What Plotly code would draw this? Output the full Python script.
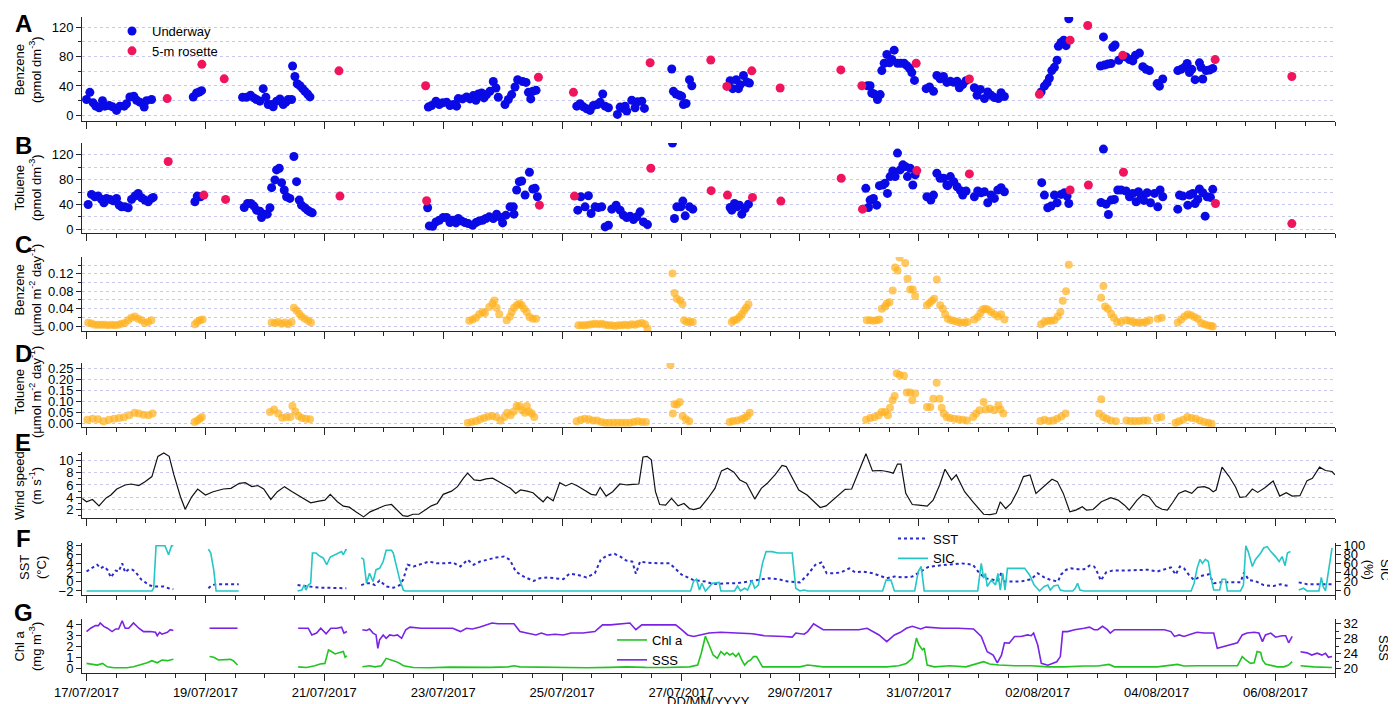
import pandas as pd
import plotly.graph_objects as go

# ---------------- DATA (time = decimal days after 17/07/2017 00:00) ----------------
BASE = pd.Timestamp("2017-07-17 00:00")

ben_underway = [
    (0.000,21.5),(0.056,31.3),(0.112,17.0),(0.157,12.5),(0.213,10.3),(0.269,20.0),(0.308,12.5),(0.381,13.4),
    (0.437,11.6),(0.505,6.7),(0.561,12.5),(0.634,12.5),(0.673,15.7),(0.729,25.0),(0.796,26.0),(0.841,20.6),
    (0.897,17.9),(0.970,11.2),(1.010,20.0),(1.094,21.5),
    (1.795,25.0),(1.851,30.4),(1.896,31.8),(1.935,33.6),
    (2.625,24.6),(2.692,24.6),(2.759,27.3),(2.815,23.7),(2.860,21.5),(2.916,19.3),(2.972,36.3),(3.017,24.6),
    (3.056,14.8),(3.113,14.8),(3.140,11.6),(3.197,19.3),(3.253,22.4),(3.309,14.8),(3.354,17.9),(3.393,21.5),
    (3.449,21.5),(3.466,67.2),(3.505,52.8),(3.545,43.0),(3.590,40.3),(3.634,36.3),(3.673,32.7),(3.718,29.1),(3.758,25.1),
    (5.749,11.2),(5.805,13.4),(5.878,19.3),(5.934,14.8),(5.990,17.0),(6.057,17.9),(6.113,13.4),(6.169,14.8),
    (6.225,12.5),(6.253,22.8),(6.326,22.4),(6.393,25.0),(6.449,22.4),(6.505,26.9),(6.550,20.6),(6.590,29.1),
    (6.646,30.4),(6.685,23.7),(6.730,28.2),(6.786,32.7),(6.842,46.1),(6.887,37.2),(6.926,24.6),(7.039,14.8),
    (7.095,21.5),(7.151,28.2),(7.207,38.5),(7.252,48.4),(7.337,46.1),(7.393,44.8),(7.433,31.3),(7.472,22.4),
    (7.506,32.7),(7.562,34.0),
    (8.246,12.5),(8.302,15.7),(8.358,11.6),(8.414,9.0),(8.470,6.7),(8.526,13.4),(8.594,14.8),(8.639,17.9),
    (8.683,29.1),(8.723,12.5),(8.779,10.3),(8.930,1.3),(8.975,11.2),(9.031,9.4),(9.059,12.5),(9.087,5.8),
    (9.171,20.6),(9.227,10.3),(9.267,18.4),(9.340,19.3),(9.384,9.4),
    (9.844,63.1),(9.872,32.7),(9.917,29.1),(9.973,27.3),(10.010,26.0),(10.040,14.8),(10.085,16.1),(10.142,48.4),(10.181,40.3),
    (10.826,47.0),(10.870,36.3),(10.927,48.4),(10.966,36.3),(10.994,41.6),(11.050,54.2),(11.106,45.2),(11.151,43.9),
    (13.136,40.3),(13.180,40.3),(13.208,30.4),(13.248,29.1),(13.304,21.5),(13.350,28.2),(13.377,60.9),(13.417,70.8),
    (13.462,82.8),(13.506,71.6),(13.546,76.1),(13.585,88.7),(13.641,70.8),(13.697,70.8),(13.753,70.8),(13.798,67.6),
    (13.843,64.0),(13.882,58.2),(13.927,47.5),
    (14.123,36.3),(14.180,38.5),(14.247,32.7),(14.303,54.2),(14.359,49.7),(14.415,52.8),(14.471,44.8),(14.530,46.3),
    (14.587,45.0),(14.643,46.3),(14.682,37.5),(14.738,41.9),(14.794,47.2),(14.934,37.5),(14.979,27.3),(15.035,35.3),
    (15.103,22.9),(15.159,31.8),(15.215,27.3),(15.271,24.3),(15.338,22.9),(15.383,30.9),(15.439,25.6),
    (16.056,31.8),(16.112,39.7),(16.157,44.1),(16.196,50.7),(16.236,60.9),(16.280,65.3),(16.325,75.0),(16.347,93.9),
    (16.393,99.2),(16.437,102.3),(16.476,94.8),(16.522,131.4),
    (17.054,67.0),(17.105,106.7),(17.122,68.4),(17.178,69.7),(17.234,70.6),(17.262,92.6),(17.301,95.7),(17.363,75.0),
    (17.486,79.4),(17.543,75.9),(17.599,74.1),(17.643,81.6),(17.711,84.7),(17.767,66.2),(17.823,62.6),(17.879,60.9),
    (18.008,43.2),(18.047,39.7),(18.103,49.4),
    (18.356,60.9),(18.412,62.6),(18.468,65.3),(18.513,70.6),(18.552,58.2),(18.591,62.6),(18.647,48.5),(18.720,71.4),
    (18.748,65.3),(18.776,49.4),(18.832,60.9),(18.888,61.7),(18.944,63.9),
]
ben_rosette = [
    (1.357,22.8),(1.940,69.4),(2.316,49.7),(4.246,60.5),(5.704,40.3),(7.601,51.9),(8.190,31.3),(9.480,71.6),
    (10.500,75.2),(10.770,39.4),(11.190,60.5),(11.667,37.2),(12.688,61.8),(13.041,40.3),(13.955,70.8),(14.850,49.4),
    (16.028,28.7),(16.544,102.3),(16.841,122.2),(17.430,81.6),(18.984,75.9),(20.274,52.9),
]
tol_underway = [
    (0.028,40.0),(0.084,56.2),(0.140,52.4),(0.196,53.5),(0.252,48.1),(0.292,42.7),(0.337,49.7),(0.393,48.1),
    (0.449,45.9),(0.505,49.7),(0.550,38.9),(0.589,36.2),(0.645,36.2),(0.701,34.6),(0.757,48.1),(0.813,53.5),
    (0.869,57.8),(0.925,50.8),(0.982,47.0),(1.038,44.3),(1.094,49.7),(1.122,51.3),
    (1.823,44.3),(1.862,53.5),(1.918,52.4),
    (2.653,35.1),(2.709,41.6),(2.765,41.6),(2.815,37.3),(2.860,30.8),(2.916,29.2),(2.944,18.9),(3.000,24.3),
    (3.040,24.3),(3.085,34.6),(3.113,67.0),(3.169,79.5),(3.197,95.7),(3.242,98.4),(3.281,75.1),(3.326,63.2),
    (3.365,52.4),(3.421,49.7),(3.488,117.3),(3.533,76.7),(3.578,47.0),(3.617,38.9),(3.673,34.6),(3.718,30.8),
    (3.758,28.1),(3.797,26.5),
    (5.738,34.6),(5.766,5.4),(5.822,4.9),(5.878,11.9),(5.934,14.6),(6.000,18.9),(6.057,18.9),(6.113,10.8),
    (6.158,14.6),(6.214,10.3),(6.253,17.3),(6.309,13.5),(6.365,10.8),(6.421,9.2),(6.494,6.5),(6.550,10.8),
    (6.606,13.5),(6.662,14.6),(6.718,17.3),(6.774,20.0),(6.842,17.3),(6.898,24.3),(6.965,18.9),(6.999,10.3),
    (7.055,22.7),(7.123,36.2),(7.179,36.2),(7.190,24.3),(7.235,63.2),(7.280,76.7),(7.320,77.8),(7.377,55.1),
    (7.450,91.9),(7.506,64.9),(7.545,65.9),(7.584,52.4),
    (8.263,30.8),(8.314,52.4),(8.386,36.2),(8.442,54.0),(8.487,25.4),(8.554,36.2),(8.610,35.1),(8.666,36.2),
    (8.723,3.8),(8.779,6.5),(8.835,32.4),(8.908,38.9),(8.975,30.8),(9.031,22.7),(9.087,18.9),(9.143,21.1),
    (9.200,15.7),(9.256,20.0),(9.312,28.1),(9.368,11.9),(9.436,7.6),
    (9.856,138.9),(9.890,17.3),(9.929,36.2),(9.996,36.2),(10.030,45.4),(10.070,21.6),(10.142,36.2),(10.198,32.4),
    (10.826,35.1),(10.854,30.8),(10.899,41.6),(10.938,36.2),(10.983,38.9),(11.022,24.3),(11.078,33.5),(11.134,40.5),
    (13.108,65.9),(13.153,35.1),(13.180,47.0),(13.236,49.7),(13.292,38.9),(13.337,70.3),(13.393,71.3),(13.432,74.0),
    (13.472,57.8),(13.517,84.9),(13.562,94.0),(13.601,84.9),(13.641,122.7),(13.686,95.7),(13.731,103.8),(13.770,101.1),
    (13.809,84.9),(13.854,98.4),(13.899,71.3),(13.938,87.6),
    (14.135,52.4),(14.202,47.0),(14.247,55.1),(14.303,90.3),(14.359,82.2),(14.415,82.2),(14.471,71.3),(14.486,70.3),
    (14.530,84.9),(14.587,76.7),(14.643,68.6),(14.700,62.2),(14.738,55.1),(14.794,61.6),(14.934,52.4),(14.990,61.6),
    (15.047,58.9),(15.103,60.5),(15.159,42.7),(15.215,55.1),(15.271,49.7),(15.327,63.2),(15.383,67.0),(15.439,60.5),
    (16.067,75.1),(16.112,55.1),(16.168,34.6),(16.224,37.3),(16.280,55.1),(16.325,42.7),(16.393,56.2),(16.449,58.9),
    (16.494,53.5),(16.522,41.6),
    (17.065,43.2),(17.105,129.2),(17.150,40.5),(17.189,23.8),(17.234,47.0),(17.290,48.1),(17.346,63.2),(17.402,63.2),
    (17.486,61.6),(17.543,52.4),(17.599,57.8),(17.655,44.3),(17.694,60.5),(17.739,53.5),(17.784,46.5),(17.840,58.9),
    (17.896,42.7),(17.963,57.8),(18.019,36.2),(18.058,63.2),(18.103,52.4),
    (18.356,32.4),(18.384,55.1),(18.440,53.5),(18.524,38.9),(18.552,55.1),(18.608,57.8),(18.647,41.6),(18.692,48.1),
    (18.720,64.9),(18.776,58.9),(18.816,21.1),(18.849,52.4),(18.905,51.3),(18.944,64.3),
]
tol_rosette = [
    (1.374,109.2),(1.974,55.1),(2.339,48.1),(4.263,53.5),(5.721,45.9),(7.618,38.9),(8.207,53.5),(9.492,98.4),
    (10.506,62.2),(10.781,55.1),(11.202,51.3),(11.679,45.4),(12.694,82.2),(13.052,32.4),(13.966,94.6),(14.850,89.2),
    (16.544,63.2),(16.852,71.3),(17.442,91.9),(18.990,41.6),(20.274,9.2),
]
ben_flux = [
    (0.028,0.0077),(0.084,0.006),(0.140,0.003),(0.196,0.003),(0.252,0.003),(0.308,0.003),(0.364,0.0015),(0.420,0.003),
    (0.476,0.0015),(0.532,0.003),(0.588,0.005),(0.644,0.007),(0.700,0.013),(0.756,0.019),(0.812,0.022),(0.868,0.017),
    (0.924,0.013),(0.980,0.007),(1.036,0.009),(1.092,0.013),
    (1.823,0.004),(1.862,0.009),(1.907,0.013),(1.952,0.015),
    (3.113,0.008),(3.169,0.007),(3.225,0.009),(3.281,0.005),(3.337,0.008),(3.393,0.004),(3.449,0.009),(3.488,0.042),
    (3.533,0.036),(3.578,0.028),(3.617,0.022),(3.673,0.017),(3.730,0.012),(3.775,0.008),
    (6.438,0.012),(6.494,0.015),(6.550,0.019),(6.606,0.027),(6.662,0.032),(6.702,0.030),(6.775,0.044),(6.830,0.052),
    (6.860,0.059),(6.898,0.042),(6.943,0.027),(7.067,0.013),(7.123,0.022),(7.152,0.032),(7.191,0.042),(7.236,0.048),
    (7.281,0.052),(7.320,0.048),(7.360,0.040),(7.405,0.032),(7.450,0.021),(7.506,0.017),(7.562,0.017),
    (8.274,0.0015),(8.330,0.0015),(8.386,0.0015),(8.442,0.003),(8.498,0.004),(8.554,0.005),(8.610,0.004),(8.666,0.005),
    (8.722,0.003),(8.778,0.0015),(8.834,0.0015),(8.890,0.0),(8.946,0.0015),(9.002,0.0015),(9.058,0.003),(9.114,0.0015),
    (9.170,0.004),(9.226,0.003),(9.282,0.005),(9.338,0.007),(9.394,0.004),(9.435,-0.006),
    (9.856,0.121),(9.890,0.076),(9.929,0.063),(9.985,0.059),(10.024,0.050),(10.052,0.013),(10.097,0.009),(10.153,0.009),(10.198,0.009),
    (10.854,0.009),(10.893,0.013),(10.938,0.015),(10.983,0.021),(11.022,0.027),(11.061,0.036),(11.095,0.042),(11.134,0.050),
    (13.125,0.013),(13.180,0.013),(13.236,0.012),(13.292,0.013),(13.337,0.015),(13.377,0.040),(13.432,0.045),(13.460,0.052),
    (13.506,0.055),(13.560,0.082),(13.600,0.135),(13.641,0.128),(13.675,0.158),(13.770,0.145),(13.810,0.109),(13.854,0.084),
    (13.899,0.084),(13.938,0.069),
    (14.135,0.048),(14.180,0.053),(14.220,0.058),(14.258,0.063),(14.303,0.107),(14.359,0.048),(14.404,0.040),(14.443,0.027),
    (14.486,0.017),(14.542,0.013),(14.598,0.012),(14.654,0.009),(14.710,0.008),(14.770,0.008),(14.820,0.009),(14.934,0.015),
    (14.990,0.021),(15.035,0.030),(15.075,0.038),(15.114,0.040),(15.159,0.038),(15.215,0.032),(15.271,0.027),(15.327,0.022),
    (15.383,0.027),(15.439,0.015),
    (16.056,0.004),(16.112,0.009),(16.168,0.012),(16.224,0.012),(16.280,0.013),(16.337,0.022),(16.381,0.032),(16.420,0.058),
    (16.476,0.080),(16.522,0.141),
    (17.065,0.065),(17.105,0.092),(17.133,0.045),(17.178,0.040),(17.234,0.028),(17.280,0.019),(17.335,0.009),(17.402,0.009),
    (17.486,0.013),(17.543,0.012),(17.599,0.009),(17.655,0.008),(17.711,0.008),(17.767,0.008),(17.823,0.009),(17.879,0.013),
    (18.019,0.017),(18.086,0.019),
    (18.356,0.008),(18.412,0.015),(18.468,0.022),(18.524,0.027),(18.580,0.025),(18.636,0.021),(18.692,0.017),(18.748,0.007),
    (18.804,0.004),(18.860,0.0015),(18.916,0.0),(18.944,-0.001),
]
tol_flux = [
    (0.014,0.015),(0.103,0.020),(0.192,0.017),(0.288,0.008),(0.377,0.015),(0.466,0.020),(0.549,0.023),(0.631,0.026),
    (0.720,0.035),(0.809,0.047),(0.878,0.043),(0.960,0.038),(1.042,0.035),(1.111,0.043),
    (1.817,0.005),(1.865,0.012),(1.907,0.020),(1.941,0.027),
    (3.086,0.050),(3.155,0.062),(3.224,0.043),(3.292,0.024),(3.361,0.027),(3.429,0.027),(3.464,0.078),(3.512,0.053),
    (3.567,0.032),(3.621,0.023),(3.690,0.020),(3.759,0.017),
    (6.413,0.0015),(6.481,0.005),(6.550,0.009),(6.619,0.017),(6.687,0.023),(6.756,0.030),(6.824,0.032),(6.893,0.027),
    (6.962,0.012),(7.030,0.027),(7.078,0.047),(7.133,0.035),(7.188,0.053),(7.236,0.078),(7.284,0.078),(7.325,0.058),
    (7.373,0.047),(7.407,0.078),(7.442,0.053),(7.490,0.043),(7.531,0.027),
    (8.244,0.008),(8.313,0.015),(8.381,0.020),(8.450,0.017),(8.518,0.012),(8.587,0.012),(8.656,0.005),(8.724,0.0015),
    (8.793,0.0015),(8.862,0.0015),(8.930,0.0015),(8.999,0.0015),(9.067,0.0015),(9.136,0.0015),(9.205,0.005),(9.273,0.008),
    (9.342,0.005),(9.410,0.005),
    (9.822,0.264),(9.863,0.043),(9.890,0.085),(9.931,0.084),(9.979,0.096),(10.027,0.032),(10.082,0.017),(10.137,0.008),
    (10.818,0.005),(10.874,0.009),(10.945,0.012),(11.016,0.017),(11.065,0.023),(11.114,0.032),(11.157,0.047),
    (13.113,0.015),(13.184,0.023),(13.254,0.027),(13.325,0.035),(13.374,0.050),(13.431,0.050),(13.480,0.035),(13.515,0.069),
    (13.558,0.104),(13.593,0.123),(13.628,0.226),(13.678,0.218),(13.749,0.215),(13.798,0.139),(13.855,0.139),(13.890,0.104),
    (13.939,0.134),
    (14.137,0.073),(14.194,0.073),(14.243,0.111),(14.300,0.183),(14.349,0.111),(14.384,0.069),(14.419,0.043),(14.469,0.027),
    (14.525,0.023),(14.596,0.020),(14.667,0.017),(14.737,0.015),(14.808,0.012),
    (14.914,0.027),(14.963,0.043),(15.020,0.058),(15.090,0.096),(15.126,0.062),(15.196,0.066),(15.267,0.058),(15.338,0.081),
    (15.373,0.062),(15.422,0.043),
    (16.044,0.009),(16.114,0.015),(16.185,0.009),(16.256,0.012),(16.326,0.020),(16.397,0.030),(16.468,0.043),
    (17.032,0.043),(17.068,0.108),(17.103,0.027),(17.160,0.020),(17.230,0.012),(17.315,0.008),(17.492,0.012),(17.562,0.009),
    (17.633,0.009),(17.704,0.009),(17.775,0.012),(17.845,0.012),(18.007,0.023),(18.078,0.027),
    (18.318,0.0015),(18.374,0.008),(18.445,0.015),(18.516,0.027),(18.586,0.023),(18.657,0.020),(18.727,0.012),(18.798,0.005),
    (18.869,0.0015),(18.925,-0.003),
]
wind_speed = [
    (-0.07,3.8),(0.00,3.26),(0.10,3.64),(0.21,2.6),(0.33,3.9),(0.41,4.36),(0.51,5.34),(0.65,6.0),(0.75,6.16),(0.88,5.9),
    (0.99,6.55),(1.10,7.37),(1.20,10.66),(1.30,11.2),(1.39,10.66),(1.47,7.64),(1.58,4.08),(1.66,2.05),(1.77,4.08),(1.87,5.34),
    (2.00,4.36),(2.13,4.9),(2.30,5.34),(2.43,5.45),(2.57,6.27),(2.67,6.38),(2.78,5.73),(2.88,5.9),(2.98,5.34),(3.10,3.64),
    (3.21,4.9),(3.33,5.73),(3.46,4.9),(3.60,4.08),(3.77,3.1),(3.91,3.37),(4.01,3.53),(4.10,4.47),(4.22,3.26),(4.32,2.55),
    (4.42,2.38),(4.53,1.62),(4.66,0.8),(4.77,1.62),(4.90,2.16),(5.02,2.66),(5.13,2.82),(5.21,2.0),(5.32,1.0),(5.40,0.9),
    (5.49,1.23),(5.59,1.23),(5.69,1.9),(5.80,2.6),(5.90,2.99),(6.00,4.47),(6.14,5.0),(6.24,5.73),(6.34,7.1),(6.41,7.92),
    (6.52,6.82),(6.62,6.71),(6.72,6.99),(6.83,7.1),(6.93,6.55),(7.03,6.0),(7.13,5.45),(7.22,4.63),(7.30,5.18),(7.41,5.0),
    (7.51,4.74),(7.60,3.92),(7.68,3.26),(7.75,4.08),(7.85,3.42),(7.96,6.38),(8.06,5.84),(8.16,6.27),(8.26,5.84),(8.37,5.18),
    (8.49,4.47),(8.57,4.36),(8.64,5.62),(8.74,4.19),(8.85,4.9),(8.97,6.16),(9.09,6.0),(9.19,6.11),(9.29,6.16),(9.36,10.55),
    (9.43,10.66),(9.50,10.1),(9.57,4.9),(9.64,2.82),(9.74,2.71),(9.84,3.81),(9.95,2.6),(10.05,2.99),(10.14,2.16),(10.21,2.0),
    (10.32,2.27),(10.45,3.8),(10.57,5.45),(10.68,8.3),(10.78,8.74),(10.89,8.08),(10.99,6.82),(11.10,6.27),(11.17,4.9),(11.24,3.7),
    (11.35,5.45),(11.45,6.27),(11.58,7.64),(11.70,9.18),(11.77,9.0),(11.88,7.1),(11.98,5.18),(12.12,4.36),(12.23,3.26),(12.34,2.33),
    (12.44,2.6),(12.58,3.8),(12.76,5.29),(12.87,5.34),(12.99,8.08),(13.11,11.1),(13.22,8.3),(13.36,8.36),(13.47,8.19),(13.57,7.92),
    (13.64,9.4),(13.70,9.4),(13.78,4.63),(13.89,2.82),(14.00,2.71),(14.14,2.55),(14.24,3.53),(14.35,6.0),(14.44,8.57),(14.55,6.82),
    (14.63,7.64),(14.77,4.9),(14.91,3.26),(15.02,2.05),(15.09,1.23),(15.20,1.18),(15.30,1.34),(15.37,3.26),(15.46,2.16),(15.55,2.99),
    (15.66,5.0),(15.76,7.37),(15.87,7.64),(15.97,4.63),(16.08,5.62),(16.15,6.11),(16.24,6.93),(16.33,6.55),(16.43,4.63),(16.54,1.62),
    (16.64,1.9),(16.75,2.44),(16.82,1.9),(16.93,2.0),(17.07,3.26),(17.23,3.92),(17.35,3.53),(17.46,2.71),(17.54,1.9),(17.67,3.53),
    (17.77,4.47),(17.87,4.08),(17.99,2.55),(18.09,2.05),(18.18,1.9),(18.27,3.15),(18.37,4.63),(18.48,5.07),(18.59,4.63),(18.69,5.62),
    (18.80,5.73),(18.88,5.45),(18.95,4.9),(19.00,5.18),(19.10,8.9),(19.22,7.37),(19.33,5.62),(19.40,3.97),(19.50,4.08),(19.61,5.34),
    (19.70,4.79),(19.82,5.56),(19.96,6.66),(20.07,4.19),(20.18,4.74),(20.28,4.19),(20.41,4.25),(20.53,6.71),(20.62,7.1),(20.74,8.9),
    (20.84,8.36),(20.95,8.19),(21.00,7.64),
]
# None marks a break in the record
sst = [
    (0.00,2.3),(0.05,2.8),(0.13,3.4),(0.18,3.8),(0.24,3.0),(0.29,3.4),(0.35,2.7),(0.41,1.0),(0.49,2.5),(0.54,2.3),
    (0.60,4.1),(0.65,2.1),(0.71,2.8),(0.77,2.7),(0.82,2.3),(0.88,1.2),(0.93,0.4),(0.99,-0.1),(1.05,-0.7),(1.13,-1.0),
    (1.22,-1.0),(1.30,-1.0),(1.38,-1.4),(1.46,-1.6),(1.75,None),
    (2.05,-1.4),(2.11,-0.7),(2.19,-0.5),(2.30,-0.5),(2.42,-0.5),(2.56,-0.5),(3.00,None),
    (3.55,-0.7),(3.65,-0.9),(3.76,-1.0),(3.93,-1.3),(4.10,-1.3),(4.26,-1.4),(4.37,-1.4),(4.50,None),
    (4.62,-0.7),(4.71,-0.3),(4.79,-0.3),(4.85,-0.7),(4.93,0.3),(5.04,-1.0),(5.16,-1.3),(5.27,-0.7),(5.33,0.6),(5.40,3.8),
    (5.50,3.4),(5.63,4.0),(5.76,4.5),(5.90,4.1),(6.03,4.1),(6.16,4.3),(6.29,3.4),(6.41,4.9),(6.51,3.8),(6.62,4.5),
    (6.75,5.0),(6.89,5.4),(7.02,5.6),(7.12,4.9),(7.22,2.3),(7.35,1.2),(7.52,0.2),(7.62,0.8),(7.75,1.0),(7.88,0.8),
    (8.02,0.6),(8.12,1.8),(8.25,1.6),(8.41,1.0),(8.55,1.9),(8.65,4.9),(8.75,5.8),(8.88,6.2),(8.98,5.6),(9.08,4.7),
    (9.18,4.5),(9.24,1.8),(9.31,4.5),(9.41,4.3),(9.61,4.1),(9.81,4.1),(10.01,1.6),(10.21,0.4),(10.41,0.1),(10.54,-0.5),
    (10.74,-0.3),(10.94,-0.3),(11.14,0.1),(11.30,0.4),(11.47,0.8),(11.63,0.6),(11.80,0.1),(12.00,-0.1),(12.13,1.6),(12.26,3.8),
    (12.36,4.3),(12.45,1.9),(12.56,1.9),(12.69,2.1),(12.83,3.0),(12.93,2.1),(13.06,2.3),(13.23,1.9),(13.36,1.2),(13.46,0.8),
    (13.59,1.2),(13.72,1.0),(13.89,1.2),(14.02,2.3),(14.16,3.3),(14.32,3.6),(14.52,3.8),(14.72,4.1),(14.91,3.8),(15.02,1.9),
    (15.12,0.8),(15.26,0.4),(15.33,0.3),(15.39,2.1),(15.44,0.1),(15.55,0.1),(15.72,0.1),(15.89,0.6),(16.00,1.9),(16.11,1.0),
    (16.22,0.4),(16.34,0.1),(16.39,1.6),(16.48,2.7),(16.56,3.0),(16.67,2.8),(16.78,2.8),(16.87,3.6),(16.95,3.4),(17.01,1.9),
    (17.06,0.3),(17.15,2.1),(17.26,2.5),(17.45,2.5),(17.68,2.7),(17.85,2.7),(18.01,2.3),(18.13,2.7),(18.24,3.2),(18.32,1.6),
    (18.39,3.4),(18.46,3.0),(18.54,1.6),(18.63,0.4),(18.74,1.3),(18.88,1.7),(18.96,-0.3),(19.08,-0.1),(19.24,-0.1),(19.41,-0.1),
    (19.47,2.1),(19.55,0.4),(19.66,0.2),(19.80,-0.7),(19.97,-0.9),(20.08,-0.5),(20.25,-1.0),(20.32,None),
    (20.39,-0.1),(20.53,-0.5),(20.70,-0.5),(20.87,-0.4),(20.95,-0.5),
]
sic = [
    (0.00,0),(1.10,0),(1.13,6),(1.17,100),(1.24,100),(1.32,100),(1.38,80),(1.43,100),(1.46,100),(1.75,None),
    (2.05,92.6),(2.09,83.7),(2.14,46.7),(2.18,0),(2.56,0),(3.00,None),
    (3.55,0),(3.62,2),(3.66,13),(3.69,2),(3.73,13),(3.77,17),(3.80,84),(3.86,84),(3.91,78),(3.98,73),(4.04,58),(4.10,75),
    (4.18,80),(4.23,84),(4.29,87),(4.32,80),(4.36,91),(4.38,91),(4.50,None),
    (4.62,73),(4.66,70),(4.71,17),(4.76,39),(4.82,21),(4.87,47),(4.93,50),(4.99,65),(5.04,90),(5.13,90),(5.16,84),(5.22,50),
    (5.27,24),(5.33,2),(5.36,0),(10.16,0),(10.21,21),(10.26,26),(10.31,2),(10.35,17),(10.41,0),(10.53,17),(10.64,19),(10.67,0),
    (10.90,0),(10.95,11),(11.00,0),(11.07,6),(11.12,2),(11.19,23),(11.24,6),(11.30,13),(11.37,61),(11.43,87),(11.53,87),(11.63,84),
    (11.87,84),(11.93,6),(12.00,0),(12.07,2),(12.13,0),(13.39,0),(13.45,24),(13.53,24),(13.59,0),(13.93,0),(13.99,43),(14.04,54),
    (14.09,0),(14.99,0),(15.05,61),(15.09,28),(15.12,39),(15.15,10),(15.22,24),(15.29,13),(15.33,39),(15.37,2),(15.41,39),(15.45,2),
    (15.49,50),(15.55,50),(15.72,50),(15.78,50),(15.86,36),(15.94,13),(16.03,0),(16.11,10),(16.17,13),(16.21,2),(16.27,11),(16.34,13),
    (16.38,2),(16.45,0),(16.59,0),(16.63,6),(16.67,17),(16.71,2),(16.78,0),(18.58,0),(18.63,17),(18.68,50),(18.73,70),(18.77,61),
    (18.82,70),(18.87,65),(18.91,32),(18.96,2),(19.06,2),(19.10,26),(19.16,26),(19.19,0),(19.41,0),(19.46,13),(19.50,100),(19.54,87),
    (19.61,54),(19.66,69),(19.75,84),(19.80,95),(19.86,98),(19.92,87),(20.00,76),(20.06,65),(20.11,76),(20.16,56),(20.20,84),(20.25,87),
    (20.32,None),(20.39,2),(20.47,6),(20.53,0),(20.73,0),(20.77,30),(20.80,10),(20.84,0),(20.89,39),(20.95,95),
]
chl_a = [
    (0.00,0.46),(0.10,0.40),(0.18,0.31),(0.27,0.46),(0.35,0.15),(0.46,0.06),(0.57,0.06),(0.68,0.06),(0.79,0.15),(0.91,0.31),
    (1.02,0.52),(1.10,0.71),(1.19,0.52),(1.27,0.77),(1.36,0.71),(1.46,0.83),(1.75,None),
    (2.07,1.08),(2.14,1.02),(2.22,0.77),(2.33,0.77),(2.42,0.83),(2.47,0.71),(2.54,0.31),(3.00,None),
    (3.56,0.15),(3.70,0.09),(3.84,0.25),(3.93,0.40),(4.01,0.46),(4.07,1.69),(4.12,1.54),(4.18,1.32),(4.26,1.45),(4.32,1.54),
    (4.35,1.02),(4.38,1.14),(4.50,None),
    (4.64,0.15),(4.76,0.25),(4.85,0.15),(4.96,0.25),(5.04,0.92),(5.13,0.77),(5.21,0.62),(5.27,0.46),(5.33,0.25),(5.50,0.09),
    (5.76,0.06),(6.10,0.12),(6.43,0.09),(6.80,0.10),(7.09,0.15),(7.19,0.25),(7.29,0.15),(7.75,0.09),(8.10,0.10),(8.42,0.06),
    (8.80,0.10),(9.08,0.15),(9.40,0.10),(9.75,0.09),(10.14,0.15),(10.28,0.31),(10.34,1.38),(10.41,2.92),(10.47,2.15),(10.54,1.23),
    (10.61,0.92),(10.67,1.54),(10.73,1.23),(10.77,1.45),(10.82,1.23),(10.87,1.38),(10.92,1.08),(10.97,1.38),(11.02,0.77),(11.07,0.31),
    (11.12,0.62),(11.17,0.77),(11.22,1.08),(11.27,1.08),(11.32,0.62),(11.37,0.15),(11.73,0.15),(12.00,0.15),(12.13,0.31),(12.26,0.22),
    (12.39,0.15),(12.73,0.15),(13.06,0.15),(13.46,0.15),(13.66,0.25),(13.79,0.46),(13.89,0.92),(13.96,2.77),(14.00,2.15),(14.06,1.69),
    (14.09,1.85),(14.14,0.31),(14.26,0.15),(14.52,0.25),(14.79,0.15),(14.99,0.46),(15.09,0.62),(15.19,0.40),(15.35,0.31),(15.61,0.25),
    (15.89,0.25),(16.17,0.15),(16.45,0.15),(16.78,0.22),(17.01,0.22),(17.20,0.37),(17.29,0.15),(17.68,0.15),(18.01,0.15),(18.35,0.37),
    (18.46,0.22),(18.68,0.25),(18.96,0.22),(19.24,0.25),(19.36,0.25),(19.44,1.08),(19.50,0.77),(19.58,0.46),(19.64,0.52),(19.69,1.54),
    (19.75,1.45),(19.78,0.77),(19.83,0.40),(19.92,0.31),(20.03,0.15),(20.14,0.15),(20.22,0.31),(20.28,0.62),(20.32,None),
    (20.42,0.25),(20.64,0.15),(20.95,0.09),
]
sss = [
    (0.00,29.9),(0.07,30.8),(0.15,31.5),(0.20,31.5),(0.23,32.2),(0.29,31.3),(0.35,30.8),(0.43,29.9),(0.49,30.6),(0.54,30.6),
    (0.60,32.8),(0.65,30.8),(0.71,30.8),(0.79,32.2),(0.88,30.8),(0.96,29.9),(1.07,29.9),(1.16,29.7),(1.19,28.8),(1.23,29.7),
    (1.27,29.2),(1.36,29.7),(1.41,30.4),(1.46,30.2),(1.75,None),
    (2.07,30.8),(2.25,30.8),(2.54,30.8),(3.00,None),
    (3.56,30.8),(3.73,30.8),(3.79,29.0),(3.87,29.5),(3.94,30.8),(4.03,29.3),(4.11,30.8),(4.21,30.8),(4.29,31.1),(4.33,29.5),
    (4.38,29.9),(4.50,None),
    (4.64,30.4),(4.71,30.2),(4.76,30.6),(4.82,29.5),(4.87,29.0),(4.90,25.4),(4.93,27.7),(4.99,29.0),(5.04,28.1),(5.10,29.0),
    (5.17,28.8),(5.23,29.0),(5.30,28.1),(5.37,30.4),(5.44,31.1),(5.63,30.8),(5.90,30.8),(6.16,30.8),(6.29,29.9),(6.39,30.8),
    (6.49,30.6),(6.62,31.1),(6.82,32.2),(6.92,32.0),(7.09,32.0),(7.19,32.0),(7.29,29.9),(7.42,29.5),(7.56,29.0),(7.65,29.5),
    (7.75,29.0),(7.88,29.2),(8.02,29.0),(8.15,29.5),(8.35,29.5),(8.55,29.9),(8.68,31.7),(8.81,31.7),(9.01,32.0),(9.14,32.2),
    (9.24,30.4),(9.34,31.7),(9.54,31.7),(9.74,31.6),(9.91,31.7),(10.01,30.4),(10.11,29.0),(10.21,28.6),(10.34,29.0),(10.47,29.5),
    (10.67,29.7),(10.94,29.5),(11.20,29.3),(11.40,28.8),(11.60,28.8),(11.73,28.6),(11.87,28.4),(11.93,29.5),(12.07,29.2),(12.13,29.9),
    (12.23,32.0),(12.39,30.4),(12.59,30.4),(12.79,30.4),(12.99,30.4),(13.13,30.8),(13.33,29.0),(13.46,27.2),(13.59,29.0),(13.69,29.7),
    (13.79,30.8),(13.89,31.3),(14.03,30.6),(14.12,31.1),(14.39,30.8),(14.66,30.8),(14.92,30.6),(15.05,28.6),(15.15,24.5),(15.25,23.6),
    (15.32,21.5),(15.39,23.6),(15.44,26.9),(15.52,26.8),(15.61,28.6),(15.72,28.6),(15.83,29.0),(15.89,28.8),(15.93,29.5),(16.00,26.3),
    (16.06,21.4),(16.17,20.9),(16.25,21.4),(16.32,21.8),(16.38,23.2),(16.42,29.9),(16.50,29.9),(16.62,30.4),(16.78,30.8),(16.87,31.1),
    (16.95,30.4),(17.01,30.4),(17.09,31.3),(17.17,30.4),(17.22,29.5),(17.29,30.4),(17.57,30.4),(17.85,30.4),(18.13,30.4),(18.24,29.9),
    (18.30,28.6),(18.38,29.0),(18.46,28.6),(18.57,29.2),(18.68,29.7),(18.80,29.5),(18.96,29.5),(19.02,25.4),(19.13,25.9),(19.24,26.3),
    (19.36,26.9),(19.44,29.0),(19.52,29.5),(19.64,29.7),(19.72,29.5),(19.78,27.2),(19.83,29.0),(19.92,29.5),(20.00,28.4),(20.11,28.8),
    (20.17,28.8),(20.22,26.9),(20.28,28.6),(20.32,None),
    (20.42,24.5),(20.53,24.2),(20.61,23.6),(20.70,24.1),(20.78,23.6),(20.84,24.1),(20.89,23.0),(20.95,23.2),
]
x_range_days = (-0.076, 21.0)

# ---------------- helpers ----------------
def split(rows):
    t = [BASE + pd.Timedelta(days=d) for d, _ in rows]
    v = [val for _, val in rows]
    return t, v

# The page body adds an 8 px offset; positions below are given in screen pixels
OFF = 8
SW, SH = 1396, 704
W, H = SW - OFF, SH - OFF
PLOT_L, PLOT_R = 82, 1335          # screen pixels of the plotting area
L = PLOT_L - OFF
R = W - (PLOT_R - OFF)
PW = W - L - R

def ydom(top, bot):
    return [1 - (bot - OFF) / H, 1 - (top - OFF) / H]
def px(xs):
    return (xs - OFF - L) / PW
def py(ys):
    return 1 - (ys - OFF) / H

FONT = "Arial, Liberation Sans, Helvetica, sans-serif"
GRID = "#C8C8EE"
AX = "#262626"
BLUE = "#0A0AE6"
PINK = "#F0145C"
ORANGE = "#FFB01E"

fig = go.Figure()

def sc(rows, **kw):
    t, v = split(rows)
    fig.add_trace(go.Scatter(x=t, y=v, **kw))

sc(ben_underway, xaxis="x", yaxis="y", mode="markers", marker=dict(color=BLUE, size=9),
   name="Underway", legend="legend")
sc(ben_rosette, xaxis="x", yaxis="y", mode="markers", marker=dict(color=PINK, size=9),
   name="5-m rosette", legend="legend")
sc(tol_underway, xaxis="x2", yaxis="y2", mode="markers", marker=dict(color=BLUE, size=9), showlegend=False)
sc(tol_rosette, xaxis="x2", yaxis="y2", mode="markers", marker=dict(color=PINK, size=9), showlegend=False)
sc(ben_flux, xaxis="x3", yaxis="y3", mode="markers", marker=dict(color=ORANGE, size=8, opacity=0.7), showlegend=False)
sc(tol_flux, xaxis="x4", yaxis="y4", mode="markers", marker=dict(color=ORANGE, size=8, opacity=0.7), showlegend=False)
sc(wind_speed, xaxis="x5", yaxis="y5", mode="lines", line=dict(color="#111111", width=1.2), showlegend=False)
sc(sst, xaxis="x6", yaxis="y6", mode="lines", line=dict(color="#2A2AC8", width=2, dash="dot"),
   name="SST", legend="legend2", connectgaps=False)
sc(sic, xaxis="x6", yaxis="y8", mode="lines", line=dict(color="#24C6C6", width=1.6),
   name="SIC", legend="legend2", connectgaps=False)
sc(chl_a, xaxis="x7", yaxis="y7", mode="lines", line=dict(color="#22C422", width=1.6),
   name="Chl a", legend="legend3", connectgaps=False)
sc(sss, xaxis="x7", yaxis="y9", mode="lines", line=dict(color="#7A22E6", width=1.6),
   name="SSS", legend="legend3", connectgaps=False)

x0 = BASE + pd.Timedelta(days=x_range_days[0])
x1 = BASE + pd.Timedelta(days=x_range_days[1])

panels = [  # top, bottom in screen pixels
    (17, 121), (143, 233), (257, 331), (363, 427), (452, 518), (543, 595), (619, 673)
]
tickfont = dict(family=FONT, size=13, color="black")
layout = dict(
    width=W, height=H, margin=dict(l=L, r=R, t=0, b=0, autoexpand=False),
    paper_bgcolor="white", plot_bgcolor="white",
    font=dict(family=FONT, size=13, color="black"),
)
for i, (top, bot) in enumerate(panels, start=1):
    sfx = "" if i == 1 else str(i)
    layout["xaxis" + sfx] = dict(
        type="date", range=[x0, x1], domain=[0, 1], anchor="y" + sfx,
        showline=True, linecolor=AX, linewidth=1, ticks="outside", ticklen=7, tickcolor=AX,
        tick0="2017-07-17", dtick=2 * 86400000, tickformat="%d/%m/%Y",
        showgrid=False, zeroline=False, showticklabels=(i == 7), tickfont=tickfont,
        minor=dict(dtick=43200000, ticks="outside", ticklen=4, tickcolor=AX, showgrid=False),
    )
    layout["yaxis" + sfx] = dict(
        domain=ydom(top, bot), anchor="x" + sfx, showline=True, linecolor=AX, linewidth=1,
        ticks="outside", ticklen=5, tickcolor=AX, zeroline=False, tickfont=tickfont,
        showgrid=True, gridcolor=GRID, griddash="dot", gridwidth=1,
    )

minor_grid = dict(ticks="outside", ticklen=3, tickcolor=AX, showgrid=True, gridcolor=GRID, griddash="dot", gridwidth=1)
layout["yaxis"].update(range=[-7.7, 133.8], tick0=0, dtick=40, minor=dict(dtick=20, **minor_grid))
layout["yaxis2"].update(range=[-6.0, 139.0], tick0=0, dtick=40, minor=dict(dtick=20, **minor_grid))
layout["yaxis3"].update(range=[-0.0115, 0.159], tick0=0, dtick=0.04, tickformat=".2f",
                        minor=dict(dtick=0.02, **minor_grid))
layout["yaxis4"].update(range=[-0.018, 0.273], tick0=0, dtick=0.05, tickformat=".2f")
layout["yaxis5"].update(range=[0.62, 11.37], tick0=0, dtick=2,
                        minor=dict(dtick=1, ticks="outside", ticklen=3, tickcolor=AX, showgrid=False))
layout["yaxis6"].update(range=[-2.89, 8.6], tick0=0, dtick=2, showgrid=False)
layout["yaxis7"].update(range=[-0.41, 4.49], tick0=0, dtick=1, showgrid=False)
layout["yaxis8"] = dict(overlaying="y6", side="right", anchor="x6", range=[-8.9, 106], tick0=0, dtick=20,
                        showline=True, linecolor=AX, ticks="outside", ticklen=5, tickcolor=AX,
                        showgrid=False, zeroline=False, tickfont=tickfont)
layout["yaxis9"] = dict(overlaying="y7", side="right", anchor="x7", range=[18.8, 33.27], tick0=20, dtick=4,
                        showline=True, linecolor=AX, ticks="outside", ticklen=5, tickcolor=AX,
                        minor=dict(dtick=2, ticks="outside", ticklen=3, tickcolor=AX),
                        showgrid=False, zeroline=False, tickfont=tickfont)

legfont = dict(family=FONT, size=13, color="black")
layout["legend"] = dict(x=px(112), y=py(16), xanchor="left", yanchor="top", bgcolor="rgba(0,0,0,0)",
                        font=legfont, tracegroupgap=0)
layout["legend2"] = dict(x=px(893), y=py(523.5), xanchor="left", yanchor="top", bgcolor="rgba(0,0,0,0)",
                         font=legfont, tracegroupgap=0)
layout["legend3"] = dict(x=px(612), y=py(625), xanchor="left", yanchor="top", bgcolor="rgba(0,0,0,0)",
                         font=legfont, tracegroupgap=0)

ann = []
letters = [("A", 24), ("B", 145), ("C", 245), ("D", 353), ("E", 442), ("F", 538), ("G", 612)]
for letter, ys in letters:
    ann.append(dict(text="<b>%s</b>" % letter, x=px(23), y=py(ys), xref="paper", yref="paper",
                    showarrow=False, xanchor="center", yanchor="middle",
                    font=dict(family=FONT, size=24, color="black")))
titles = [
    ("Benzene<br>(pmol dm<sup>-3</sup>)", 28, 70),
    ("Toluene<br>(pmol dm<sup>-3</sup>)", 28, 188),
    ("Benzene<br>(µmol m<sup>-2</sup> day<sup>-1</sup>)", 28, 290),
    ("Toluene<br>(µmol m<sup>-2</sup> day<sup>-1</sup>)", 28, 392),
    ("Wind speed<br>(m s<sup>-1</sup>)", 28, 486),
    ("SST<br>(°C)", 33, 568),
    ("Chl a<br>(mg m<sup>-3</sup>)", 28, 647),
]
for txt, xs, ys in titles:
    ann.append(dict(text=txt, x=px(xs), y=py(ys), xref="paper", yref="paper", showarrow=False,
                    textangle=-90, xanchor="center", yanchor="middle",
                    font=dict(family=FONT, size=13, color="black")))
ann.append(dict(text="SIC<br>(%)", x=px(1377), y=py(570), xref="paper", yref="paper", showarrow=False,
                textangle=90, xanchor="center", yanchor="middle", font=dict(family=FONT, size=13, color="black")))
ann.append(dict(text="SSS", x=px(1384), y=py(648), xref="paper", yref="paper", showarrow=False,
                textangle=90, xanchor="center", yanchor="middle", font=dict(family=FONT, size=13, color="black")))
ann.append(dict(text="DD/MM/YYYY", x=0.5, y=py(701), xref="paper", yref="paper", showarrow=False,
                xanchor="center", yanchor="middle", font=dict(family=FONT, size=13, color="black")))
layout["annotations"] = ann

fig.update_layout(**layout)
fig.write_html("out.html")
